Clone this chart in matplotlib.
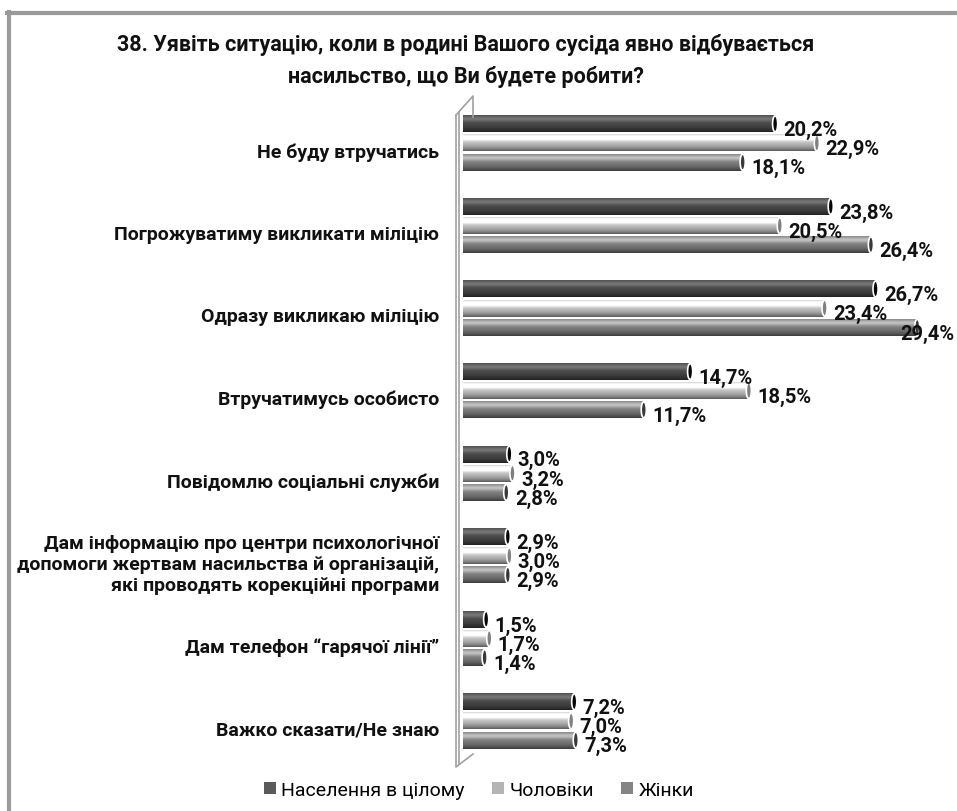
import numpy as np
import matplotlib
matplotlib.use("Agg")
import matplotlib.pyplot as plt
from matplotlib.patches import Ellipse, Patch
from matplotlib.lines import Line2D

plt.rcParams['font.family'] = ['Roboto', 'DejaVu Sans']

title = "38. Уявіть ситуацію, коли в родині Вашого сусіда явно відбувається\nнасильство, що Ви будете робити?"
categories = [
    "Не буду втручатись",
    "Погрожуватиму викликати міліцію",
    "Одразу викликаю міліцію",
    "Втручатимусь особисто",
    "Повідомлю соціальні служби",
    "Дам інформацію про центри психологічної\nдопомоги жертвам насильства й організацій,\nякі проводять корекційні програми",
    "Дам телефон “гарячої лінії”",
    "Важко сказати/Не знаю",
]
series_names = ["Населення в цілому", "Чоловіки", "Жінки"]
total = [20.2, 23.8, 26.7, 14.7, 3.0, 2.9, 1.5, 7.2]
men = [22.9, 20.5, 23.4, 18.5, 3.2, 3.0, 1.7, 7.0]
women = [18.1, 26.4, 29.4, 11.7, 2.8, 2.9, 1.4, 7.3]

base_colors = [0.30, 0.80, 0.52]      # grey level of each series
legend_colors = ["#5a5a5a", "#b4b4b4", "#858585"]

W, H = 957, 812
fig = plt.figure(figsize=(W / 100, H / 100), dpi=100)

def fx(px):
    return px / W

def fy(py):
    return 1 - py / H

# outer frame
fig.add_artist(Line2D([fx(8.5), fx(8.5)], [fy(13), fy(812)], color="#9a9a9a", lw=3, transform=fig.transFigure))
fig.add_artist(Line2D([fx(7), fx(957)], [fy(13.5), fy(13.5)], color="#9a9a9a", lw=3, transform=fig.transFigure))

fig.text(fx(466), fy(61), title, ha="center", va="center", fontsize=15.5, fontweight="bold",
         linespacing=1.6, color="#111111")

ax_left, ax_right, ax_top, ax_bot = 463, 942, 100, 750
px_per_unit = (ax_right - ax_left) / 31
ax = fig.add_axes([fx(ax_left), fy(ax_bot), fx(ax_right - ax_left), (ax_bot - ax_top) / H])
ax.set_xlim(0, 31)
ax.set_ylim(7.34, -0.533)
ax.axis("off")

# 3d wall on the left
wall = dict(color="#a0a0a0", lw=1.2, transform=fig.transFigure)
fig.add_artist(Line2D([fx(456), fx(456), fx(473)], [fy(116), fy(768), fy(755)], **wall))
fig.add_artist(Line2D([fx(459), fx(459)], [fy(113), fy(765)], **wall))
fig.add_artist(Line2D([fx(456), fx(473), fx(473)], [fy(116), fy(97), fy(118)], **wall))

bar_h = 0.205
step = 0.232
t = np.linspace(0, 1, 40)
hl = np.exp(-((t - 0.22) / 0.16) ** 2)
profile = 1.0 + 0.35 * hl - 0.55 * t ** 3

label_w = 54 / px_per_unit
x_max = (954 - ax_left) / px_per_unit

for s, vals in enumerate([total, men, women]):
    shade = np.clip(base_colors[s] * profile + 0.06 * hl, 0, 1)
    img = np.repeat(shade[:, None, None], 3, axis=2)
    for i, v in enumerate(vals):
        yc = i + (s - 1) * step
        ax.imshow(img, extent=(0, v, yc + bar_h / 2, yc - bar_h / 2), aspect="auto",
                  interpolation="bilinear", zorder=2)
        cap = Ellipse((v, yc), width=0.33, height=bar_h * 0.95,
                      facecolor=str(max(base_colors[s] - 0.3, 0.02)), edgecolor="white", lw=1.2, zorder=3)
        ax.add_patch(cap)
        lx = min(v + 0.55, x_max - label_w)
        ax.text(lx, yc + 0.07, f"{v:.1f}%".replace(".", ","), ha="left", va="center",
                fontsize=14.5, fontweight="bold", color="#111111", zorder=4)

ax.set_xlim(0, 31)
ax.set_ylim(7.34, -0.533)

for i, c in enumerate(categories):
    ax.text(-0.05, i + 0.1, c, transform=ax.get_yaxis_transform(), ha="right", va="center",
            fontsize=14, fontweight="bold", color="#111111", linespacing=1.2)

handles = [Patch(facecolor=c, edgecolor="none") for c in legend_colors]
fig.legend(handles, series_names, loc="center", bbox_to_anchor=(fx(479), fy(791)), ncol=3,
           frameon=False, fontsize=14, handlelength=0.6, handleheight=0.6, handletextpad=0.3,
           columnspacing=1.4)

fig.savefig("out.png", dpi=100, facecolor="white")
